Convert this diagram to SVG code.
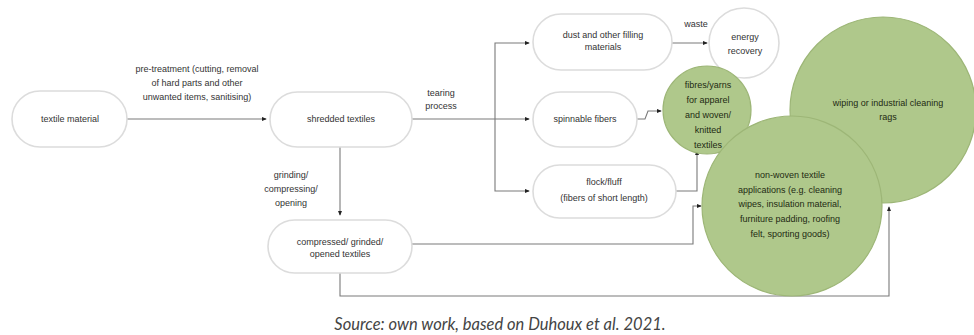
<svg xmlns="http://www.w3.org/2000/svg" width="974" height="335" viewBox="0 0 974 335">
<defs>
<style>
.box{fill:#ffffff;stroke:#dcdcdc;stroke-width:1.6}
.t{font-family:"Liberation Sans",Arial,sans-serif;font-size:9px;fill:#333333;text-anchor:middle}
.g{font-family:"Liberation Sans",Arial,sans-serif;font-size:9px;fill:#1e2a12;text-anchor:middle}
.circ{fill:#afc88b;stroke:#9db677;stroke-width:1.2}
.wc{fill:#ffffff;stroke:#dcdcdc;stroke-width:1.6}
.c{fill:none;stroke:#7a7a7a;stroke-width:1.1;marker-end:url(#dot)}
.cap{font-family:Lato,"Open Sans",sans-serif;font-style:italic;font-size:16.5px;fill:#444;text-anchor:middle}
</style>
<marker id="dot" viewBox="0 0 6 6" refX="5" refY="3" markerWidth="5" markerHeight="5" markerUnits="userSpaceOnUse" orient="auto">
<path d="M0,0.5 L6,3 L0,5.5 Z" fill="#222"/>
</marker>
</defs>
<rect width="974" height="335" fill="#ffffff"/>

<g id="connectors">
<path class="c" d="M127,119 H266"/>
<path class="c" d="M412,119 H529"/>
<path class="c" d="M495,119 V43 H529"/>
<path class="c" d="M495,119 V191 H529"/>
<path class="c" d="M340,147 V215"/>
<path class="c" d="M672,43 H707"/>
<path class="c" d="M637,119 H645 L648,111 H661"/>
<path class="c" d="M676,191 H697 V151"/>
<path class="c" d="M412,244 H693 V206 H701"/>
<path class="c" d="M340,273 V296 H889 V207"/>
</g>

<g id="label-pretreatment">
<text class="t" x="197" y="72">pre-treatment (cutting, removal</text>
<text class="t" x="197" y="86">of hard parts and other</text>
<text class="t" x="197" y="100">unwanted items, sanitising)</text>
</g>
<g id="label-tearing">
<text class="t" x="441" y="96">tearing</text>
<text class="t" x="441" y="109">process</text>
</g>
<g id="label-grinding">
<text class="t" x="291" y="178">grinding/</text>
<text class="t" x="291" y="192">compressing/</text>
<text class="t" x="291" y="206">opening</text>
</g>
<g id="label-waste">
<text class="t" x="696" y="27">waste</text>
</g>

<g id="textile-material">
<rect class="box" x="12" y="91" width="115" height="56" rx="28"/>
<text class="t" x="70" y="122">textile material</text>
</g>
<g id="shredded-textiles">
<rect class="box" x="270" y="92" width="142" height="55" rx="27.5"/>
<text class="t" x="341" y="122">shredded textiles</text>
</g>
<g id="compressed-textiles">
<rect class="box" x="268" y="220" width="144" height="53" rx="26.5"/>
<text class="t" x="340" y="245">compressed/ grinded/</text>
<text class="t" x="340" y="257">opened textiles</text>
</g>
<g id="dust">
<rect class="box" x="533" y="14" width="139" height="56" rx="28"/>
<text class="t" x="603" y="38">dust and other filling</text>
<text class="t" x="603" y="50">materials</text>
</g>
<g id="spinnable-fibers">
<rect class="box" x="533" y="92" width="104" height="55" rx="27.5"/>
<text class="t" x="585" y="122">spinnable fibers</text>
</g>
<g id="flock">
<rect class="box" x="533" y="165" width="143" height="53" rx="26.5"/>
<text class="t" x="604" y="185">flock/fluff</text>
<text class="t" x="604" y="201">(fibers of short length)</text>
</g>
<g id="energy-recovery">
<circle class="wc" cx="744" cy="43" r="35"/>
<text class="t" x="745" y="40">energy</text>
<text class="t" x="745" y="54">recovery</text>
</g>
<g id="wiping-rags">
<circle class="circ" cx="883" cy="110" r="93"/>
<text class="g" x="888" y="106">wiping or industrial cleaning</text>
<text class="g" x="888" y="120">rags</text>
</g>
<g id="fibres-yarns">
<circle class="circ" cx="707" cy="110" r="44"/>
<text class="g" x="708" y="88">fibres/yarns</text>
<text class="g" x="708" y="103">for apparel</text>
<text class="g" x="708" y="118">and woven/</text>
<text class="g" x="708" y="133">knitted</text>
<text class="g" x="708" y="148">textiles</text>
</g>
<g id="non-woven">
<circle class="circ" cx="792" cy="206" r="90"/>
<text class="g" x="790" y="178">non-woven textile</text>
<text class="g" x="790" y="193">applications (e.g. cleaning</text>
<text class="g" x="790" y="207">wipes, insulation material,</text>
<text class="g" x="790" y="222">furniture padding, roofing</text>
<text class="g" x="790" y="237">felt, sporting goods)</text>
</g>

<text class="cap" x="500" y="330">Source: own work, based on Duhoux et al. 2021.</text>
</svg>
